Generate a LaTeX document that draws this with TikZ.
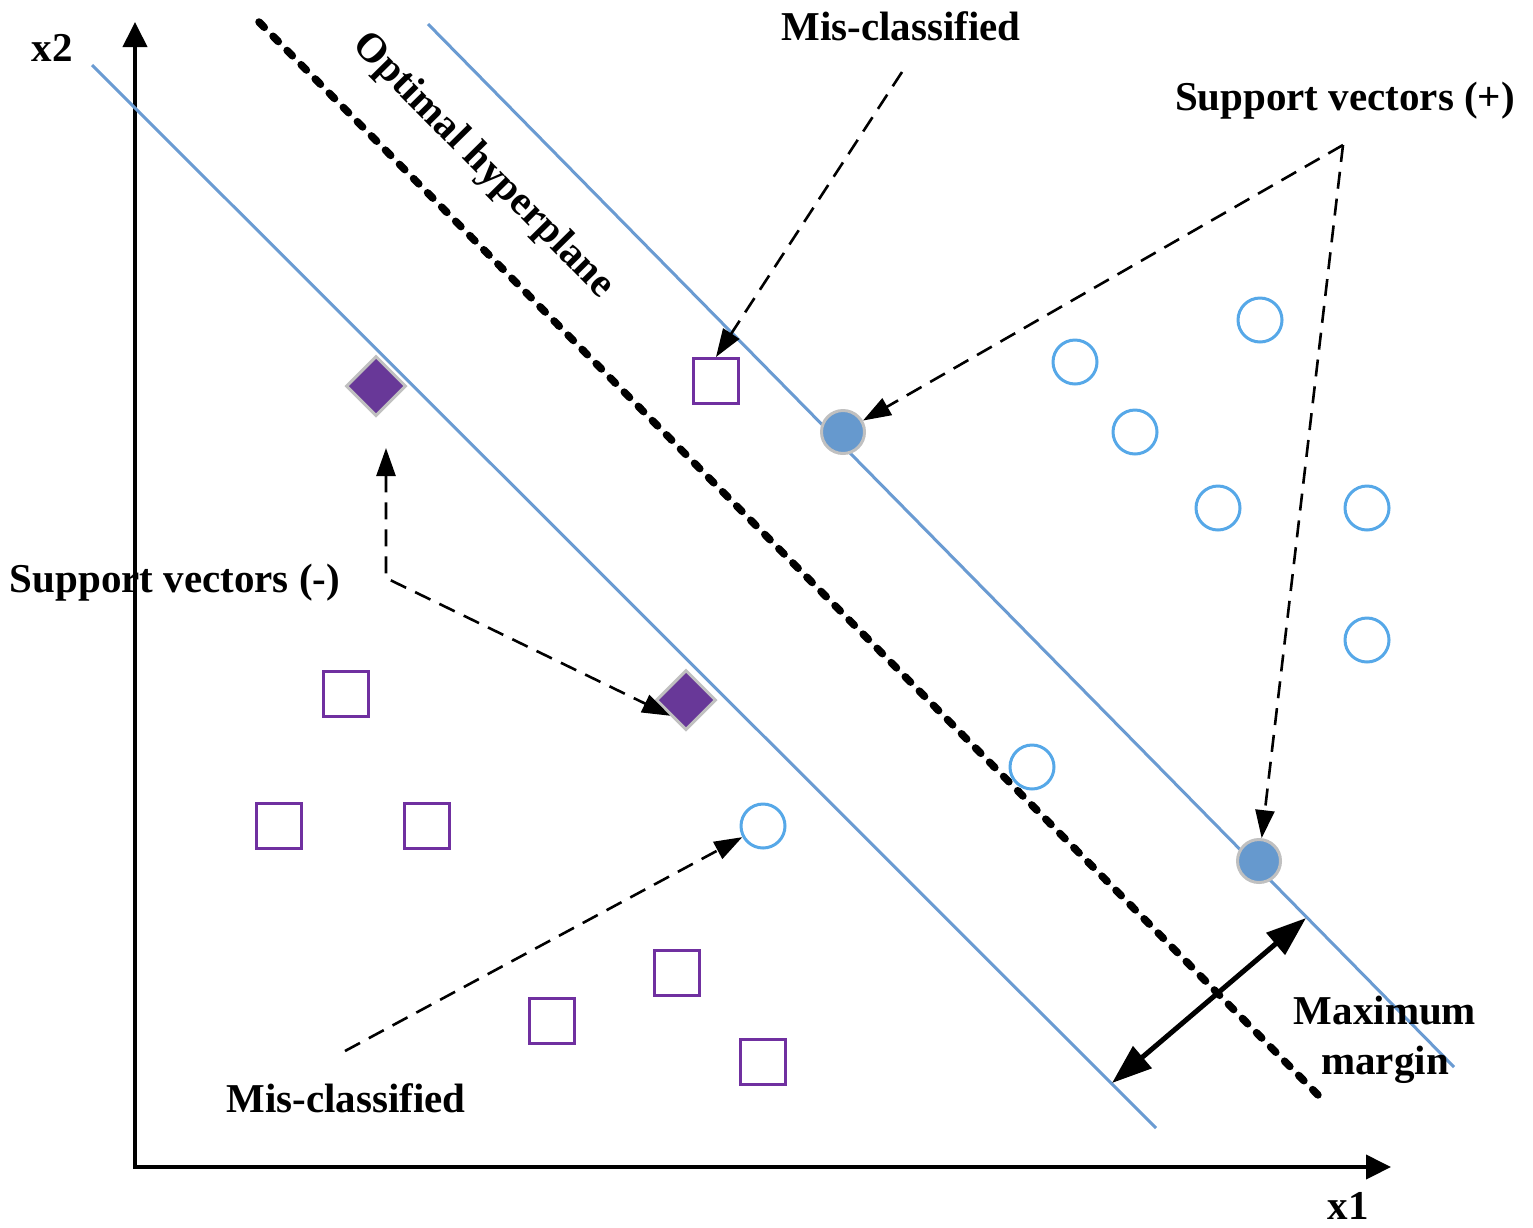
\documentclass[tikz,border=0pt]{standalone}
\usepackage{fontspec}
\setmainfont{Liberation Serif}
\usetikzlibrary{arrows.meta,shapes.geometric}
\definecolor{lineblue}{RGB}{106,155,210}
\definecolor{circblue}{RGB}{86,168,232}
\definecolor{svblue}{RGB}{102,153,206}
\definecolor{svgray}{RGB}{192,192,192}
\definecolor{sqpurple}{RGB}{112,48,160}
\definecolor{dpurple}{RGB}{104,56,152}
\tikzset{
  marginline/.style={draw=lineblue, line width=3pt},
  hyperline/.style={draw=black, line width=7.5pt, line cap=round, dash pattern=on 7.5pt off 12.5pt},
  axisline/.style={draw=black, line width=4pt, {Triangle[length=25pt,width=24pt]}-{Triangle[length=25pt,width=24pt]}},
  negpt/.style={rectangle, draw=sqpurple, line width=3pt, minimum size=45pt, inner sep=0pt},
  pospt/.style={circle, draw=circblue, line width=3pt, minimum size=44pt, inner sep=0pt},
  svpospt/.style={circle, fill=svblue, draw=svgray, line width=3pt, minimum size=43pt, inner sep=0pt},
  svnegpt/.style={diamond, fill=dpurple, draw=svgray, line width=3pt, minimum width=60pt, minimum height=60pt, inner sep=0pt, aspect=1},
  lbl/.style={font=\fontsize{41}{50}\selectfont\bfseries, inner sep=0pt, text=black},
  pointer/.style={draw=black, line width=2.6pt, dash pattern=on 17pt off 10pt, -{Triangle[length=28pt,width=19pt]}},
  pointerboth/.style={draw=black, line width=2.6pt, dash pattern=on 17pt off 10pt, {Triangle[length=28pt,width=19pt]}-{Triangle[length=28pt,width=19pt]}},
  marginarrow/.style={draw=black, line width=5pt, {Triangle[length=40pt,width=28pt]}-{Triangle[length=40pt,width=28pt]}}
}
\begin{document}
\begin{tikzpicture}[x=1pt,y=-1pt]
\useasboundingbox (0,0) rectangle (1533,1227);
\fill[white] (0,0) rectangle (1533,1227);

% coordinates
\coordinate (O) at (135,1167);
\coordinate (Ytip) at (135,22);
\coordinate (Xtip) at (1391,1167);
\coordinate (L1a) at (92,65);
\coordinate (L1b) at (1156,1128);
\coordinate (L2a) at (428,24);
\coordinate (L2b) at (1454,1067);
\coordinate (Ha) at (259,22);
\coordinate (Hb) at (1318,1095);
\coordinate (mL) at (1112,1083);
\coordinate (mR) at (1306,918);
\coordinate (misTopStart) at (902,72);
\coordinate (svPlusApex) at (1343,145);
\coordinate (svNegBend) at (386,578);
\coordinate (svNegTip) at (386,448);
\coordinate (misBotStart) at (345,1051);

% axes
\draw[axisline] (Ytip) -- (O) -- (Xtip);

% margin lines and hyperplane
\draw[marginline] (L1a) -- (L1b);
\draw[marginline] (L2a) -- (L2b);
\draw[hyperline] (Ha) -- (Hb);

% positive points
\node[pospt] (pos1) at (1260,320) {};
\node[pospt] (pos2) at (1075,362) {};
\node[pospt] (pos3) at (1135,432) {};
\node[pospt] (pos4) at (1218,508) {};
\node[pospt] (pos5) at (1367,508) {};
\node[pospt] (pos6) at (1367,640) {};
\node[pospt] (pos7) at (1032,767) {};
\node[pospt] (posMis) at (763,826) {};

% negative points
\node[negpt] (negMis) at (716,381) {};
\node[negpt] (neg1) at (346,694) {};
\node[negpt] (neg2) at (279,826) {};
\node[negpt] (neg3) at (427,826) {};
\node[negpt] (neg4) at (677,973) {};
\node[negpt] (neg5) at (552,1021) {};
\node[negpt] (neg6) at (763,1062) {};

% support vectors
\node[svpospt] (svpos1) at (843,432) {};
\node[svpospt] (svpos2) at (1259,861) {};
\node[svnegpt] (svneg1) at (376,386) {};
\node[svnegpt] (svneg2) at (686,700) {};

% labels
\node[lbl, anchor=base] (x2) at (52,61) {x2};
\node[lbl, anchor=base] (x1) at (1348,1219) {x1};
\node[lbl, anchor=base] (misTop) at (901,40) {Mis-classified};
\node[lbl, anchor=base] (svPlus) at (1345,110) {Support vectors (+)};
\node[lbl, anchor=base] (svNeg) at (175,592) {Support vectors (-)};
\node[lbl, anchor=base] (misBot) at (346,1112) {Mis-classified};
\node[lbl, align=center] (maxm) at (1385,1040) {Maximum\\margin};
\node[lbl, rotate=-45.4] (opt) at (483,166) {Optimal hyperplane};

% pointers
\draw[pointer] (misTopStart) -- (negMis.north);
\draw[pointer] (svPlusApex) -- (svpos1);
\draw[pointer] (svPlusApex) -- (svpos2);
\draw[pointerboth] (svNegTip) -- (svNegBend) -- (svneg2.south west);
\draw[pointer] (misBotStart) -- (posMis);
\draw[marginarrow] (mL) -- (mR);
\end{tikzpicture}
\end{document}
